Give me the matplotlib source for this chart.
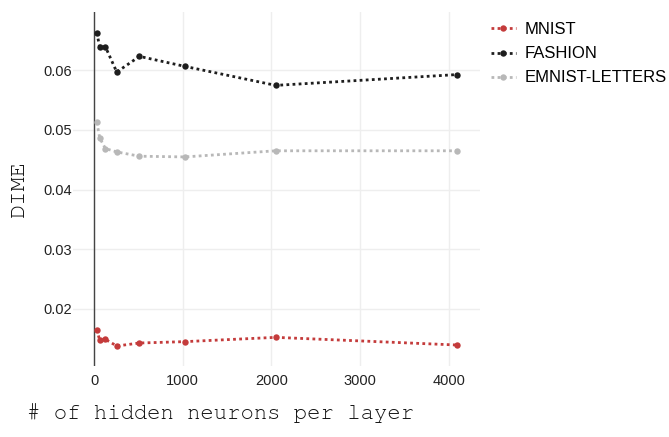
import matplotlib
matplotlib.use("Agg")
import matplotlib.pyplot as plt
from matplotlib.lines import Line2D

neurons = [32, 64, 128, 256, 512, 1024, 2048, 4096]
mnist = [0.01648, 0.01468, 0.01485, 0.01373, 0.01423, 0.01446, 0.01518, 0.01389]
fashion = [0.06633, 0.06386, 0.06397, 0.05972, 0.06235, 0.06067, 0.05748, 0.05930]
emnist_letters = [0.05129, 0.04866, 0.04688, 0.04631, 0.04559, 0.04547, 0.04650, 0.04650]

series_names = ["MNIST", "FASHION", "EMNIST-LETTERS"]
series_colors = ["#c43b3b", "#1e1e1e", "#b8b8b8"]

x_ticks = [0, 1000, 2000, 3000, 4000]
y_ticks = [0.02, 0.03, 0.04, 0.05, 0.06]

mono = ["Courier New", "Nimbus Mono PS", "FreeMono", "Liberation Mono"]

W, H = 669, 437
fig = plt.figure(figsize=(W / 100, H / 100), dpi=100)
ax = fig.add_axes([73 / W, 1 - 366 / H, (480 - 73) / W, (366 - 12) / H])

for vals, name, col in zip([mnist, fashion, emnist_letters], series_names, series_colors):
    ax.plot(neurons, vals, linestyle=(0, (1, 1.2)), linewidth=2.0, color=col,
            marker="o", markersize=4.6, markeredgewidth=0, label=name,
            dash_capstyle="butt", zorder=3)

ax.set_xlim(-237, 4350)
ax.set_ylim(0.01037, 0.0698)
ax.set_xticks(x_ticks)
ax.set_yticks(y_ticks)
ax.set_xticklabels([str(t) for t in x_ticks], fontfamily="Liberation Sans", fontsize=10.5, color="#222")
ax.set_yticklabels([f"{t:.2f}" for t in y_ticks], fontfamily="Liberation Sans", fontsize=10.5, color="#222")
ax.tick_params(axis="both", length=0)
ax.tick_params(axis="y", pad=0.5)
ax.tick_params(axis="x", pad=6)
ax.grid(True, color="#eeeeee", linewidth=1.0, zorder=0)
ax.set_axisbelow(True)
for side in ["top", "right", "bottom", "left"]:
    ax.spines[side].set_visible(False)
# zero line on the x axis
ax.axvline(0, color="#444444", linewidth=1.0, zorder=2)

fig.text(19 / W, 1 - 189 / H, "DIME", rotation=90, ha="center", va="center",
         fontfamily=mono, fontsize=17, color="#111")
fig.text(221 / W, 1 - 413 / H, "# of hidden neurons per layer", ha="center", va="center",
         fontfamily=mono, fontsize=16, color="#111")

handles = [Line2D([0], [0], linestyle=(0, (1, 1.2)), linewidth=2.0, color=c,
                  marker="o", markersize=4.6, markeredgewidth=0) for c in series_colors]
fig.legend(handles, series_names, loc="upper left", bbox_to_anchor=(484 / W, 1 - 15.5 / H),
           frameon=False, prop={"family": "Liberation Sans", "size": 12},
           handlelength=1.5, handletextpad=0.55, labelspacing=0.55, borderaxespad=0)

fig.savefig("out.png", dpi=100)
